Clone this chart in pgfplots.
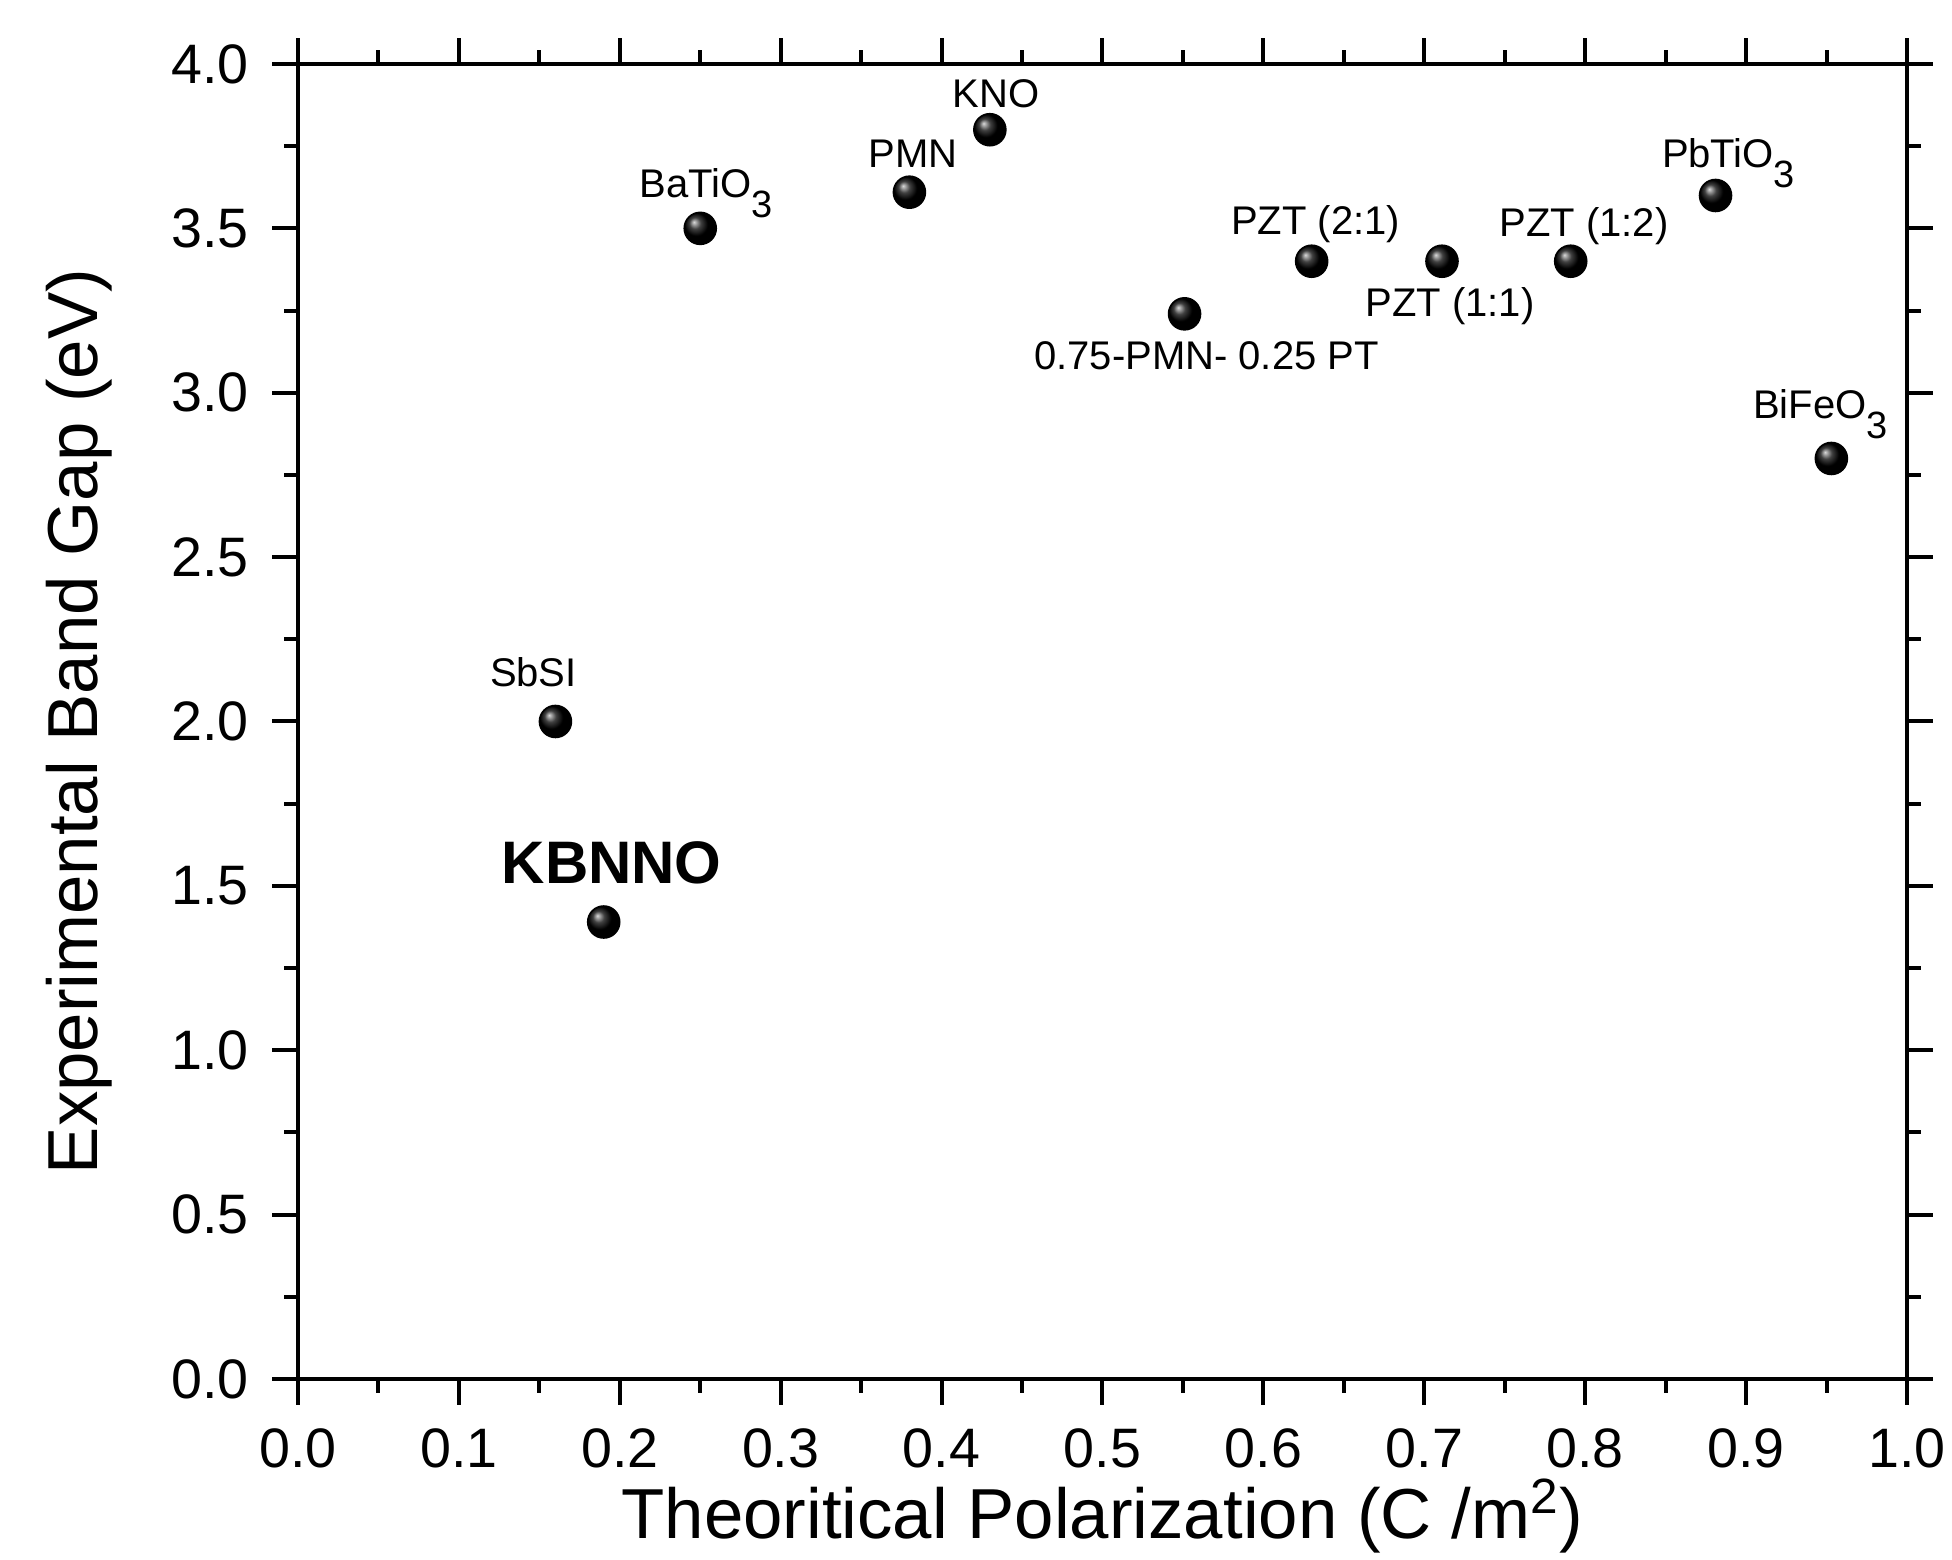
\documentclass[border=0pt]{standalone}
\usepackage{fontspec}
\setmainfont{Liberation Sans}
\usepackage{pgfplots}
\pgfplotsset{compat=1.18}

\newcommand{\sub}[1]{\raisebox{-0.5em}{\fontsize{9.5}{9.5}\selectfont #1}}

\begin{document}
\begin{tikzpicture}
\begin{axis}[
    scale only axis,
    width=402.25pt, height=328.75pt,
    xmin=0, xmax=1, ymin=0, ymax=4,
    xtick={0,0.1,...,1.0},
    ytick={0,0.5,...,4.0},
    minor x tick num=1,
    minor y tick num=1,
    % negative lengths with inside align: ticks point outwards, labels stay put
    tick align=inside,
    major tick length=-6.5pt,
    minor tick length=-3.4pt,
    axis line style={line width=1.2pt},
    every tick/.style={black, line width=1pt},
    /pgf/number format/assume math mode=true,
    /pgf/number format/fixed,
    /pgf/number format/fixed zerofill,
    /pgf/number format/precision=1,
    ticklabel style={font=\fontsize{13.9}{16}\selectfont, inner sep=0pt},
    xticklabel style={anchor=base, yshift=-22.25pt},
    yticklabel style={anchor=east, xshift=-12.2pt},
    label style={font=\fontsize{17.7}{20}\selectfont, inner sep=0pt},
    xlabel={Theoritical Polarization (C /m\textsuperscript{2})},
    ylabel={Experimental Band Gap (eV)},
    xlabel style={at={(axis description cs:0.5,0)}, anchor=base, yshift=-40pt},
    ylabel style={at={(axis description cs:-0.136,0.5)}, anchor=center},
    clip=false,
]
% data points
\addplot[only marks, mark=ball, mark size=4pt, mark options={ball color=black}] coordinates {
  (0.160,2.00)
  (0.190,1.39)
  (0.250,3.50)
  (0.380,3.61)
  (0.430,3.80)
  (0.551,3.24)
  (0.630,3.40)
  (0.711,3.40)
  (0.791,3.40)
  (0.881,3.60)
  (0.953,2.80)
};
% labels
\begingroup
\fontsize{12.4}{14}\selectfont
\node[anchor=base, xshift=-5.5pt, yshift=8.75pt] at (axis cs:0.160,2.00) {SbSI};
\node[anchor=base, xshift=2pt, yshift=9.75pt, font=\fontsize{15}{17}\selectfont\bfseries] at (axis cs:0.190,1.39) {KBNNO};
\node[anchor=base, xshift=1.4pt, yshift=7.75pt] at (axis cs:0.250,3.50) {BaTiO\sub{3}};
\node[anchor=base, xshift=1pt, yshift=6.25pt] at (axis cs:0.380,3.61) {PMN};
\node[anchor=base, xshift=1.6pt, yshift=5.5pt] at (axis cs:0.430,3.80) {KNO};
\node[anchor=base, xshift=5.5pt, yshift=-14pt] at (axis cs:0.551,3.24) {0.75-PMN- 0.25 PT};
\node[anchor=base, xshift=1pt, yshift=6.75pt] at (axis cs:0.630,3.40) {PZT (2:1)};
\node[anchor=base, xshift=2pt, yshift=-13.75pt] at (axis cs:0.711,3.40) {PZT (1:1)};
\node[anchor=base, xshift=3.3pt, yshift=6.25pt] at (axis cs:0.791,3.40) {PZT (1:2)};
\node[anchor=base, xshift=3.25pt, yshift=7pt] at (axis cs:0.881,3.60) {PbTiO\sub{3}};
\node[anchor=base, xshift=-2.75pt, yshift=10pt] at (axis cs:0.953,2.80) {BiFeO\sub{3}};
\endgroup
\end{axis}
% fix the page to the reference's margins round the axis box
\path (current axis.south west) +(-74.5pt,-45.25pt) coordinate (bbl);
\path (current axis.north east) +(11.25pt,16pt) coordinate (btr);
\pgfresetboundingbox
\path[use as bounding box] (bbl) rectangle (btr);
\end{tikzpicture}
\end{document}
